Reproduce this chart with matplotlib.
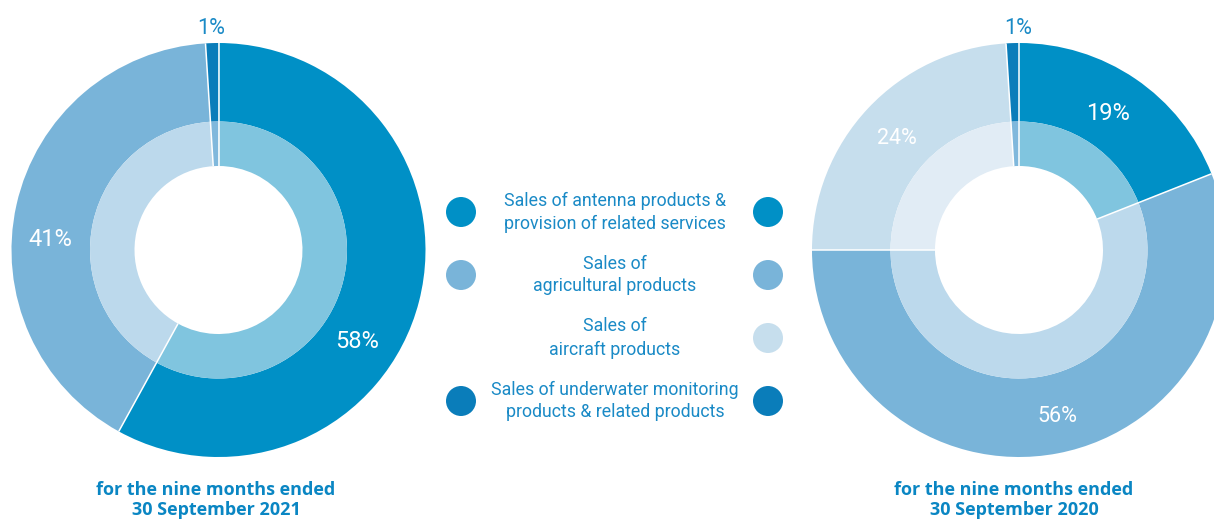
import numpy as np
import matplotlib
matplotlib.use("Agg")
import matplotlib.pyplot as plt
from matplotlib.patches import Circle

# ---- data ----
categories = ["Sales of antenna products &\nprovision of related services",
              "Sales of\nagricultural products",
              "Sales of\naircraft products",
              "Sales of underwater monitoring\nproducts & related products"]
share_2021 = [58, 41, 0, 1]
share_2020 = [19, 56, 24, 1]
labels_2021 = ["58%", "41%", "", "1%"]
labels_2020 = ["19%", "56%", "24%", "1%"]
captions = ["for the nine months ended\n30 September 2021",
            "for the nine months ended\n30 September 2020"]

outer_colors = ["#0090c6", "#79b4d9", "#c6deed", "#0a7dba"]
inner_colors = ["#80c5df", "#bcd9ec", "#e1ecf5", "#80b8dc"]
text_blue = "#1a8ac6"
caption_blue = "#0a86c3"

W, H = 1214, 519
fig = plt.figure(figsize=(W / 100, H / 100), dpi=100)
ax = fig.add_axes([0, 0, 1, 1])

R_OUT, R_MID, R_IN = 207, 128.5, 84


def Y(y_img):
    return H - y_img


def donut(cx, cy, values, labels, label_pos, label_colors, label_sizes):
    keep = [i for i, v in enumerate(values) if v > 0]
    v = [values[i] for i in keep]
    ax.pie(v, colors=[outer_colors[i] for i in keep], radius=R_OUT,
           center=(cx, Y(cy)), startangle=90, counterclock=False,
           wedgeprops=dict(width=R_OUT - R_MID, linewidth=0))
    ax.pie(v, colors=[inner_colors[i] for i in keep], radius=R_MID,
           center=(cx, Y(cy)), startangle=90, counterclock=False,
           wedgeprops=dict(width=R_MID - R_IN, linewidth=0))
    # white separators between slices
    cum = np.concatenate([[0], np.cumsum(v)]) / np.sum(v)
    for c in cum[:-1]:
        ang = np.deg2rad(90 - 360 * c)
        ax.plot([cx + R_IN * np.cos(ang), cx + R_OUT * np.cos(ang)],
                [Y(cy) + R_IN * np.sin(ang), Y(cy) + R_OUT * np.sin(ang)],
                color="white", lw=1.1, solid_capstyle="butt")
    for lab, pos, col, fs in zip(labels, label_pos, label_colors, label_sizes):
        if lab:
            ax.text(pos[0], Y(pos[1]), lab, ha="center", va="center",
                    fontsize=fs, color=col, family="Roboto")


donut(218.5, 250, share_2021, labels_2021,
      [(357, 341), (50, 240), (0, 0), (211, 28)],
      ["white", "white", "white", text_blue], [17, 17, 17, 15.5])
donut(1019, 250, share_2020, labels_2020,
      [(1108, 113), (1057, 416), (897, 139), (1018, 28)],
      ["white", "white", "white", text_blue], [17, 15.5, 15.5, 15.5])

# legend
rows_y = [212, 275, 338, 401]
for i, (cat, ry) in enumerate(zip(categories, rows_y)):
    if share_2021[i] > 0:
        ax.add_patch(Circle((461, Y(ry)), 15, color=outer_colors[i], lw=0))
    if share_2020[i] > 0:
        ax.add_patch(Circle((768, Y(ry)), 15, color=outer_colors[i], lw=0))
    ax.text(615, Y(ry), cat, ha="center", va="center", fontsize=12.8,
            color=text_blue, family="Roboto", linespacing=1.35)

# captions
for cx, cap in zip([216, 1014], captions):
    ax.text(cx, Y(500), cap, ha="center", va="center", fontsize=13,
            color=caption_blue, family="Open Sans", fontweight="bold",
            linespacing=1.2)

ax.set_xlim(0, W)
ax.set_ylim(0, H)
ax.set_aspect("equal")
ax.axis("off")
fig.savefig("out.png", dpi=100)
